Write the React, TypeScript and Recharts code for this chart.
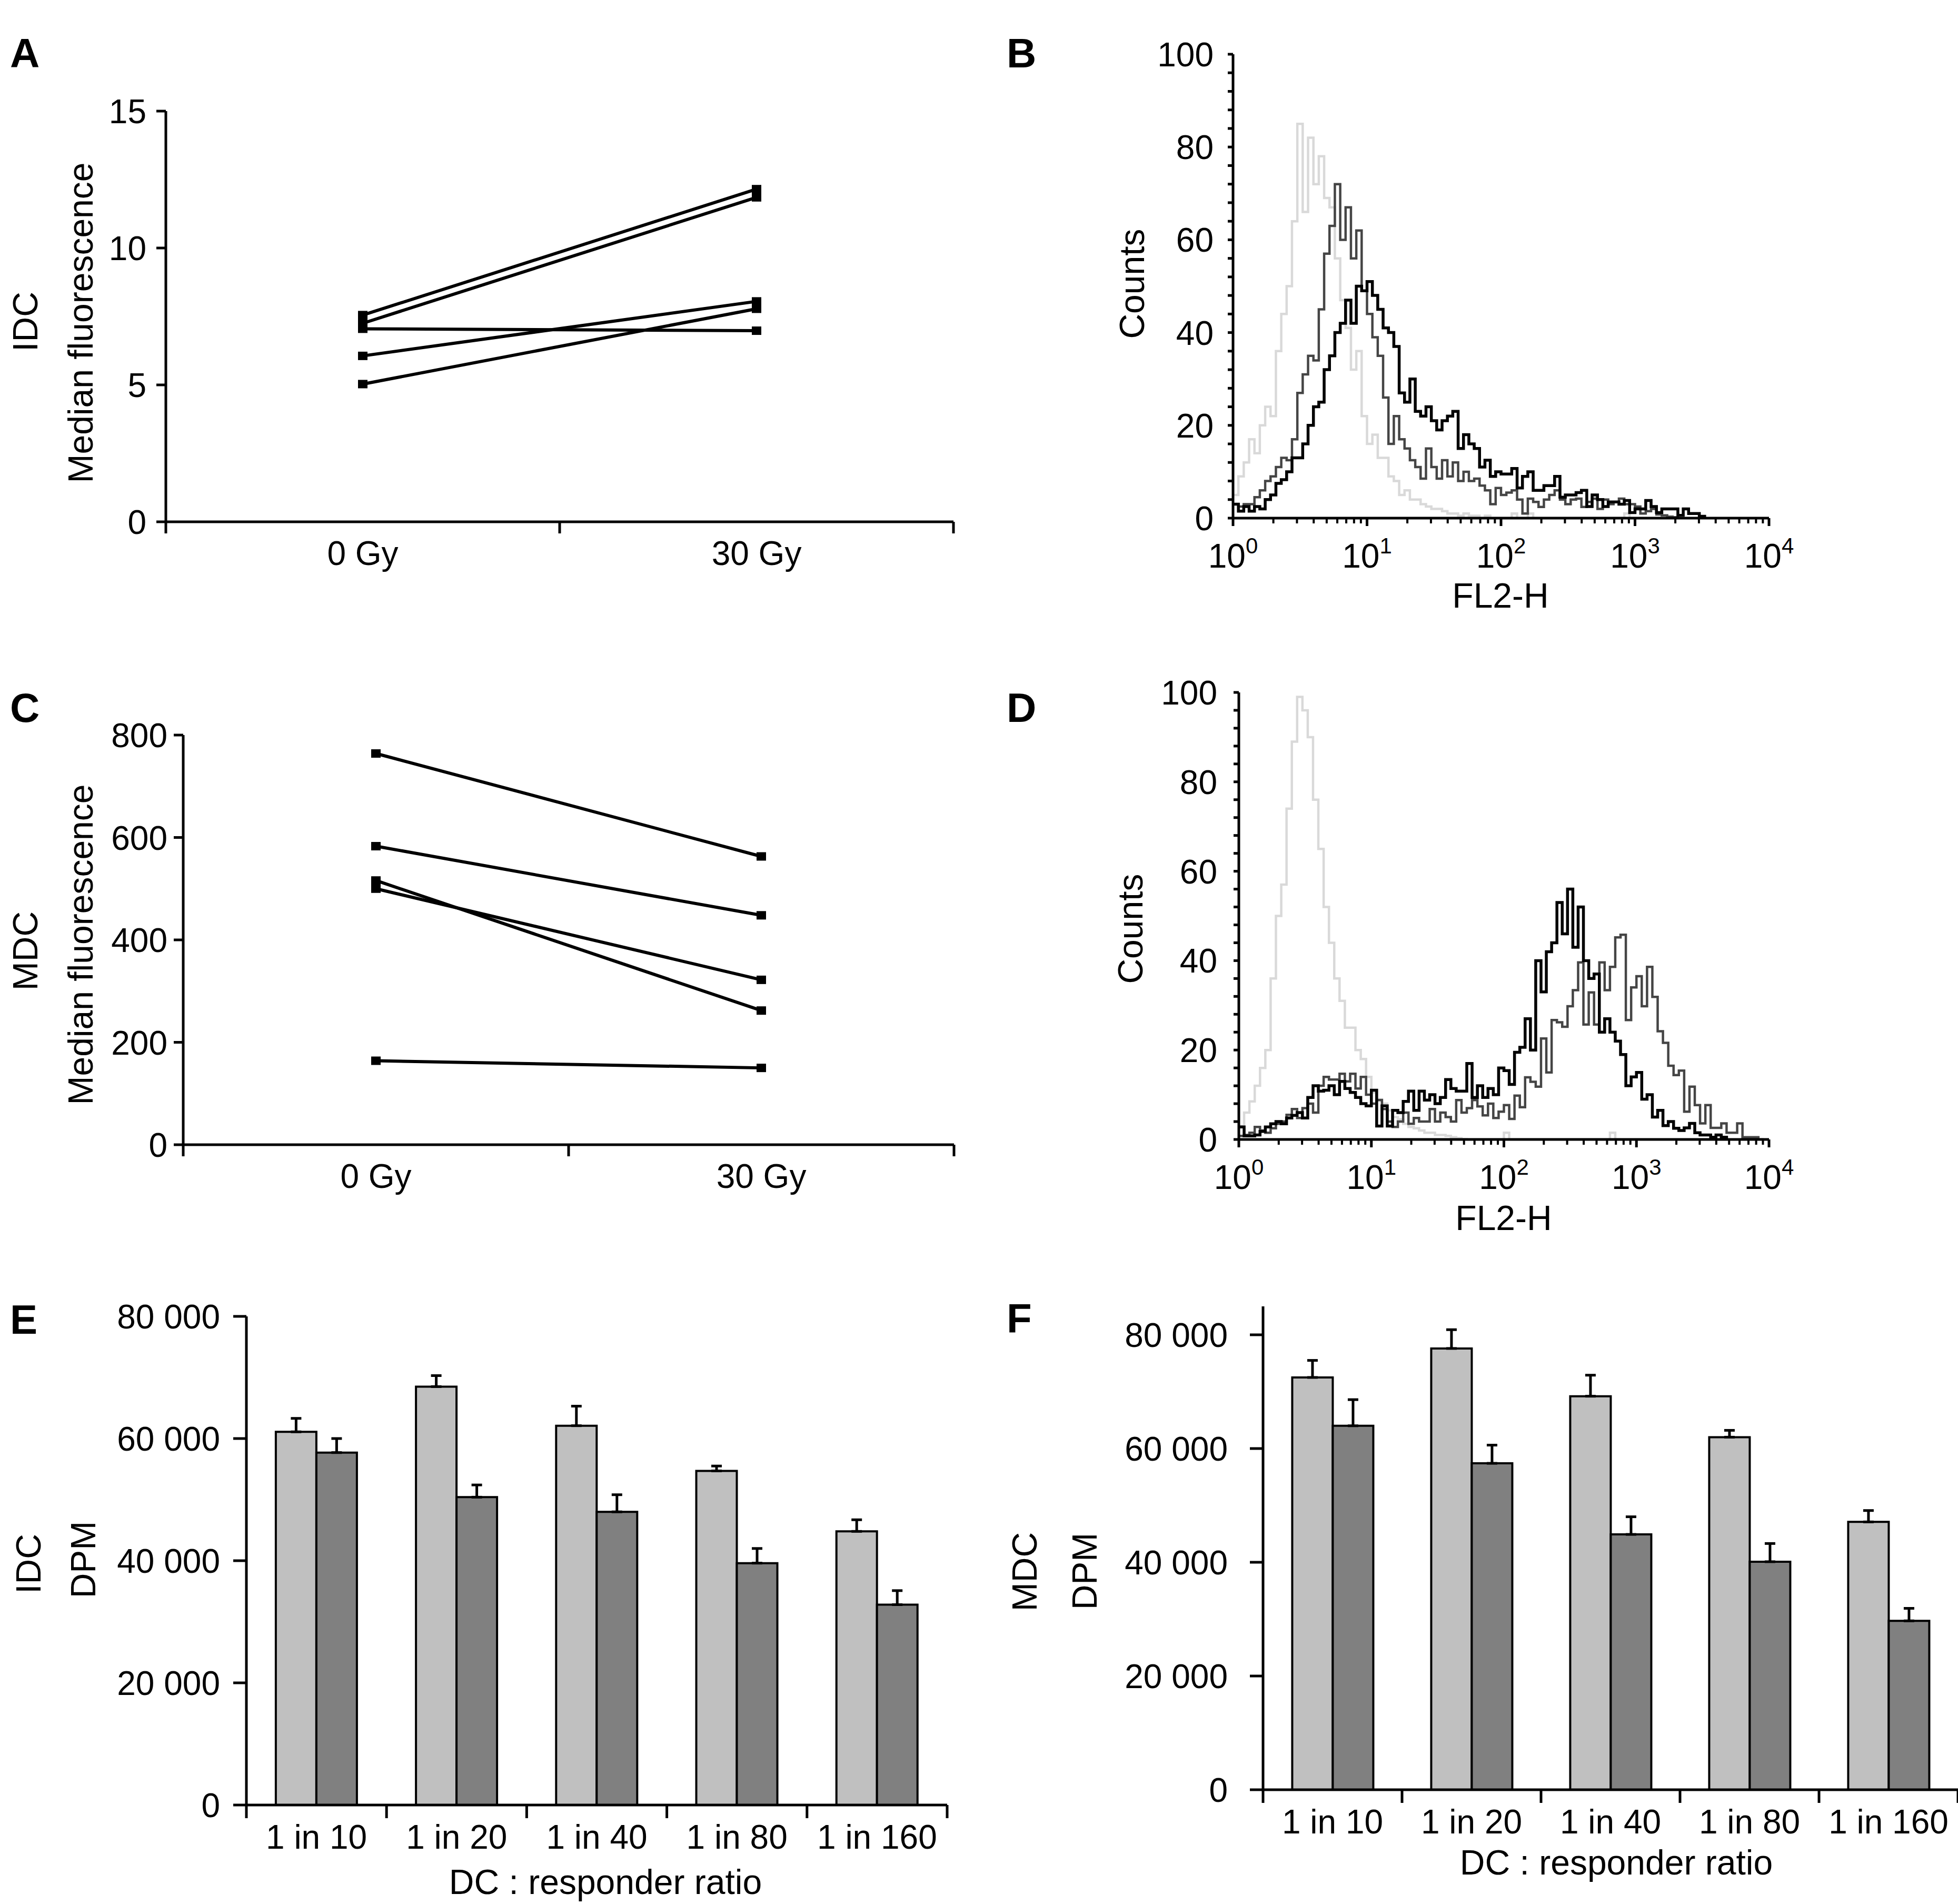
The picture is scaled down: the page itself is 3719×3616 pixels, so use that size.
import React from 'react';
import { Bar, BarChart, ErrorBar, Line, LineChart, XAxis, YAxis } from 'recharts';

const FONT = '"Liberation Sans", Arial, Helvetica, sans-serif';
const TICK_FONT = 64;
const TITLE_FONT = 66;
const AXIS = { stroke: '#000', strokeWidth: 5 };

// ---- A / C: median fluorescence, one line per donor ----
const DOSES = ['0 Gy', '30 Gy'];
const IDC_MEDIAN_0GY = [7.55, 7.25, 7.05, 6.06, 5.03];
const IDC_MEDIAN_30GY = [12.15, 11.85, 6.98, 8.05, 7.78];
const IDC_MEDIAN_TICKS = [0, 5, 10, 15];
const MDC_MEDIAN_0GY = [764, 583, 516, 500, 164];
const MDC_MEDIAN_30GY = [563, 448, 262, 322, 150];
const MDC_MEDIAN_TICKS = [0, 200, 400, 600, 800];

// ---- B / D: FL2-H histograms (counts per bin, bins are HIST_BIN decades wide) ----
const HIST_BIN = 0.04;
const HIST_DECADES = [0, 1, 2, 3, 4];
const HIST_COUNT_LABELS = [0, 20, 40, 60, 80, 100];
const HIST_COUNT_MINOR = 4;

const IDC_HIST_ISOTYPE = [
  5, 9, 12, 17, 14, 20, 24, 22, 36, 44,
  50, 64, 85, 66, 82, 72, 78, 69, 67, 56,
  47, 41, 32, 36, 22, 16, 18, 13, 13, 9,
  8, 5, 6, 4, 4, 3, 2.5, 2, 2, 1.5,
  1, 1, 0.5, 1, 0.5, 0.5, 0, 0.5, 0, 0,
  0, 0, 1, 0, 0, 1, 0, 0, 0, 0,
  0, 0, 0, 0, 0, 0, 0, 0, 0, 0,
  0, 0, 0, 1, 0, 0,
];
const IDC_HIST_30GY = [
  3, 2.5, 3, 3, 4.5, 6, 8, 9, 11, 13,
  12.5, 17, 27, 31, 35, 34, 45, 57, 63, 72,
  60, 67, 56, 62, 49, 44, 39, 35, 26, 16,
  22, 17, 15, 12.5, 11, 8.5, 15, 11, 8.5, 12.5,
  9, 12, 8, 10, 8, 8.5, 7, 6, 3, 6.5,
  5, 5.5, 6, 4, 1, 4.2, 3.5, 2.4, 4, 5,
  6, 4, 3, 4, 4.2, 2.4, 3.5, 4.2, 2, 4,
  3, 3.5, 4.2, 3, 3, 2.5, 1, 1.5, 2, 0.8,
  0.6, 0.3, 0.2, 0,
];
const IDC_HIST_0GY = [
  3, 1.5, 2.5, 1.5, 2.5, 2, 4, 5, 7.5, 8.3,
  10, 13, 13, 16, 20, 24, 25, 32, 35, 40,
  42, 47, 42, 50, 49, 51, 48, 45, 41, 40,
  37, 27, 25, 30, 23, 22, 24, 21, 19, 21,
  22, 23, 15, 18, 16, 15, 11, 12.5, 9, 10,
  9.5, 9.5, 10.7, 6.5, 9, 10, 6, 6, 7, 7,
  9, 4.5, 5, 5, 5.5, 6, 2.5, 5, 4, 2.5,
  3.5, 3.5, 3, 3.8, 1.2, 2, 2, 3.8, 2.5, 1.2,
  2, 2, 2, 0.6, 2, 1, 1, 0.4, 0,
];

const MDC_HIST_ISOTYPE = [
  3, 6, 8.5, 12, 16, 20, 36, 50, 57, 74,
  89, 99, 96, 90, 76, 65, 52, 44, 36, 31,
  25, 25, 20, 18, 14, 10.5, 9, 8, 6.5, 5,
  4.5, 3.5, 2.8, 2.5, 2, 1.5, 1.5, 1, 1, 0.8,
  0.5, 0.3, 0.1, 0, 0, 0, 0, 0, 0, 0,
  1.5, 0, 0, 0, 0, 0, 0, 0, 0, 0,
  0, 0, 0, 0, 0, 0, 0, 0, 0, 0,
  1.5, 0, 0,
];
const MDC_HIST_30GY = [
  0.8, 1, 1.5, 2.8, 2, 1.5, 2.5, 3.5, 4, 5.5,
  6.8, 4.8, 7, 8, 6, 12, 14, 13.4, 13.4, 14.7,
  13, 14.7, 11.4, 14, 10, 8, 8.8, 6.8, 4, 2.8,
  4, 6, 3.5, 4.8, 4, 4, 6.8, 4, 6, 5,
  4, 8.8, 6, 7, 8.8, 7.4, 5.4, 8, 4.8, 6.2,
  7.7, 4.6, 9.8, 7.2, 13.9, 12.9, 11.8, 22.6, 15, 26.7,
  26.2, 25.2, 29.8, 33.4, 39.6, 25.7, 32.9, 25.7, 39.6, 33.4,
  38.6, 45.2, 45.8, 26.7, 34, 36.5, 29.8, 38.6, 31.9, 24.2,
  21.6, 16.5, 14.4, 15.4, 6.2, 11.8, 7.7, 3.6, 7.7, 2.6,
  2.6, 3.6, 1.5, 1.5, 3.6, 0.5, 0.5, 0.5, 0, 0,
];
const MDC_HIST_0GY = [
  2.8, 0.8, 0.8, 1, 1.8, 2.8, 3.5, 4, 3.5, 4.8,
  5.4, 6, 4.8, 9.4, 12, 10.8, 11, 12, 10, 13,
  11.4, 10.5, 9.4, 8, 7.5, 11, 3, 7.5, 3, 6.5,
  6, 8.5, 10.8, 6.5, 10.8, 8.8, 10, 8, 9.4, 13.4,
  11.4, 10.8, 10.8, 17, 9.4, 12, 9.4, 11.4, 10, 16,
  15.4, 12.3, 19.5, 20.6, 27, 20, 40, 33, 42, 44,
  53, 46, 56, 43, 52, 40, 36, 37, 24, 27,
  24, 22, 19, 12, 14, 15, 9, 10, 5, 6.5,
  3.1, 4, 2.5, 2, 2.6, 3.6, 1.5, 1, 1, 0.5,
  1, 0.5, 0,
];

// ---- E / F: proliferation (DPM), mean with upper SEM ----
const RATIOS = ['1 in 10', '1 in 20', '1 in 40', '1 in 80', '1 in 160'];
const DPM_TICKS = [0, 20000, 40000, 60000, 80000];
const IDC_DPM_0GY = [61100, 68500, 62100, 54700, 44800];
const IDC_DPM_0GY_ERR = [2200, 1800, 3200, 800, 1900];
const IDC_DPM_30GY = [57700, 50400, 48000, 39600, 32800];
const IDC_DPM_30GY_ERR = [2300, 2000, 2800, 2400, 2300];
const MDC_DPM_0GY = [72500, 77600, 69200, 62000, 47100];
const MDC_DPM_0GY_ERR = [3000, 3300, 3700, 1200, 2000];
const MDC_DPM_30GY = [64000, 57400, 44900, 40100, 29700];
const MDC_DPM_30GY_ERR = [4600, 3200, 3100, 3200, 2200];

const fmtThousands = (v: number) => String(v).replace(/\B(?=(\d{3})+(?!\d))/g, ' ');

function ValueTick(props: any) {
  const { x, y, payload, len, gap, format, labelled } = props;
  const v = payload.value;
  const show = labelled ? labelled(v) : true;
  return (
    <g>
      <line x1={x - len} y1={y} x2={x} y2={y} stroke="#000" strokeWidth={5} />
      {show && (
        <text x={x - gap} y={y + 23} textAnchor="end" fontSize={TICK_FONT} fontFamily={FONT} fill="#000">
          {format ? format(v) : v}
        </text>
      )}
    </g>
  );
}

function DoseTick(props: any) {
  const { x, y, payload } = props;
  const v = payload.value;
  if (Number.isInteger(v)) return <line x1={x} y1={y} x2={x} y2={y + 22} stroke="#000" strokeWidth={5} />;
  return (
    <text x={x} y={y + 82} textAnchor="middle" fontSize={TICK_FONT} fontFamily={FONT} fill="#000">
      {DOSES[Math.floor(v)]}
    </text>
  );
}

const SquareDot = (d: any) => (
  <rect key={`${d.dataKey}-${d.index}`} x={d.cx - 9} y={d.cy - 8} width={18} height={16} fill="#000" />
);

type PairedProps = {
  left: number; top: number; width: number; height: number;
  axisLeft: number; marginTop: number; axisBottom: number;
  max: number; ticks: number[]; before: number[]; after: number[]; labelGap: number;
};

function PairedPanel(p: PairedProps) {
  const rows = DOSES.map((_, i) => {
    const row: Record<string, number> = { x: i + 0.5 };
    (i === 0 ? p.before : p.after).forEach((v, k) => (row[`d${k}`] = v));
    return row;
  });
  const xTicks = [...DOSES.flatMap((_, i) => [i, i + 0.5]), DOSES.length];
  return (
    <div style={{ position: 'absolute', left: p.left, top: p.top }}>
      <LineChart width={p.width} height={p.height} data={rows} margin={{ top: p.marginTop, right: 20, bottom: 0, left: 0 }}>
        <XAxis type="number" dataKey="x" domain={[0, DOSES.length]} ticks={xTicks} interval={0}
          tickSize={0} tickMargin={0} height={p.axisBottom} axisLine={AXIS} tick={DoseTick} />
        <YAxis type="number" domain={[0, p.max]} ticks={p.ticks} interval={0} tickSize={0} tickMargin={0}
          width={p.axisLeft} axisLine={AXIS} tick={(t: any) => <ValueTick {...t} len={18} gap={p.labelGap} />} />
        {p.before.map((_, k) => (
          <Line key={k} dataKey={`d${k}`} stroke="#000" strokeWidth={6} dot={SquareDot} isAnimationActive={false} />
        ))}
      </LineChart>
    </div>
  );
}

const HIST_X_TICKS = HIST_DECADES.flatMap((d) =>
  d < HIST_DECADES[HIST_DECADES.length - 1] ? [d, ...[2, 3, 4, 5, 6, 7, 8, 9].map((m) => d + Math.log10(m))] : [d],
);
const HIST_Y_TICKS = Array.from({ length: 100 / HIST_COUNT_MINOR + 1 }, (_, i) => i * HIST_COUNT_MINOR);

function DecadeTick(props: any) {
  const { x, y, payload } = props;
  const v = payload.value;
  const major = Math.abs(v - Math.round(v)) < 1e-9;
  if (!major) return <line x1={x} y1={y} x2={x} y2={y + 10} stroke="#000" strokeWidth={4} />;
  return (
    <g>
      <line x1={x} y1={y} x2={x} y2={y + 15} stroke="#000" strokeWidth={5} />
      <text x={x} y={y + 94} textAnchor="middle" fontSize={TICK_FONT} fontFamily={FONT} fill="#000">
        10<tspan dy={-27} fontSize={42}>{Math.round(v)}</tspan>
      </text>
    </g>
  );
}

type Curve = { counts: number[]; color: string; w: number };
const histRows = (counts: number[]) => counts.map((c, i) => ({ x: i * HIST_BIN, c }));

function HistPanel(p: {
  left: number; top: number; width: number; height: number;
  axisLeft: number; marginTop: number; axisBottom: number; labelGap: number; curves: Curve[];
}) {
  return (
    <div style={{ position: 'absolute', left: p.left, top: p.top }}>
      <LineChart width={p.width} height={p.height} margin={{ top: p.marginTop, right: 100, bottom: 0, left: 0 }}>
        <XAxis xAxisId="b" type="number" dataKey="x" domain={[0, 4]} allowDataOverflow ticks={HIST_X_TICKS}
          interval={0} tickSize={0} tickMargin={0} height={p.axisBottom} axisLine={AXIS} tick={DecadeTick} />
        <XAxis xAxisId="t" orientation="top" type="number" dataKey="x" domain={[0, 4]} height={0}
          tick={false} tickLine={false} axisLine={AXIS} />
        <YAxis yAxisId="l" type="number" domain={[0, 100]} allowDataOverflow ticks={HIST_Y_TICKS} interval={0}
          tickSize={0} tickMargin={0} width={p.axisLeft} axisLine={AXIS}
          tick={(t: any) => (
            <ValueTick {...t} len={10} gap={p.labelGap} labelled={(v: number) => HIST_COUNT_LABELS.includes(v)} />
          )} />
        <YAxis yAxisId="r" orientation="right" type="number" domain={[0, 100]} width={0}
          tick={false} tickLine={false} axisLine={AXIS} />
        {p.curves.map((c, i) => (
          <Line key={i} xAxisId="b" yAxisId="l" data={histRows(c.counts)} dataKey="c" type="stepAfter"
            stroke={c.color} strokeWidth={c.w} dot={false} isAnimationActive={false} />
        ))}
      </LineChart>
    </div>
  );
}

function RatioTick(props: any) {
  const { x, y, payload, index, band } = props;
  const tick = (tx: number) => <line x1={tx} y1={y} x2={tx} y2={y + 25} stroke="#000" strokeWidth={5} />;
  return (
    <g>
      {tick(x - band / 2)}
      {index === RATIOS.length - 1 && tick(x + band / 2)}
      <text x={x} y={y + 83} textAnchor="middle" fontSize={TICK_FONT} fontFamily={FONT} fill="#000">
        {payload.value}
      </text>
    </g>
  );
}

function DpmPanel(p: {
  left: number; top: number; width: number; height: number; axisLeft: number; marginTop: number;
  marginRight: number; axisBottom: number; max: number; labelGap: number;
  v0: number[]; e0: number[]; v30: number[]; e30: number[];
}) {
  const rows = RATIOS.map((r, i) => ({ ratio: r, g0: p.v0[i], err0: [0, p.e0[i]], g30: p.v30[i], err30: [0, p.e30[i]] }));
  const band = (p.width - p.axisLeft - p.marginRight) / RATIOS.length;
  return (
    <div style={{ position: 'absolute', left: p.left, top: p.top }}>
      <BarChart width={p.width} height={p.height} data={rows} barCategoryGap="21%" barGap={0}
        margin={{ top: p.marginTop, right: p.marginRight, bottom: 0, left: 0 }}>
        <XAxis dataKey="ratio" interval={0} tickSize={0} tickMargin={0} height={p.axisBottom} axisLine={AXIS}
          tick={(t: any) => <RatioTick {...t} band={band} />} />
        <YAxis type="number" domain={[0, p.max]} allowDataOverflow ticks={DPM_TICKS} interval={0} tickSize={0}
          tickMargin={0} width={p.axisLeft} axisLine={AXIS}
          tick={(t: any) => <ValueTick {...t} len={25} gap={p.labelGap} format={fmtThousands} />} />
        <Bar dataKey="g0" fill="#c0c0c0" stroke="#000" strokeWidth={4} isAnimationActive={false}>
          <ErrorBar dataKey="err0" width={10} stroke="#000" strokeWidth={5} direction="y" />
        </Bar>
        <Bar dataKey="g30" fill="#808080" stroke="#000" strokeWidth={4} isAnimationActive={false}>
          <ErrorBar dataKey="err30" width={10} stroke="#000" strokeWidth={5} direction="y" />
        </Bar>
      </BarChart>
    </div>
  );
}

function VText({ cx, cy, children }: { cx: number; cy: number; children: React.ReactNode }) {
  return (
    <text x={cx} y={cy} transform={`rotate(-90 ${cx} ${cy})`} textAnchor="middle" dominantBaseline="central"
      fontSize={TITLE_FONT} fontFamily={FONT} fill="#000">
      {children}
    </text>
  );
}

function Letter({ x, y, children }: { x: number; y: number; children: React.ReactNode }) {
  return (
    <text x={x} y={y} fontSize={78} fontWeight="bold" fontFamily={FONT} fill="#000">
      {children}
    </text>
  );
}

function HText({ x, y, children }: { x: number; y: number; children: React.ReactNode }) {
  return (
    <text x={x} y={y} textAnchor="middle" fontSize={TITLE_FONT} fontFamily={FONT} fill="#000">
      {children}
    </text>
  );
}

export default function App() {
  const gray = { light: '#d9d9d9', dark: '#454545', black: '#000' };
  return (
    <div style={{ position: 'absolute', left: 0, top: 0, width: 3719, height: 3616, overflow: 'hidden', background: '#fff', fontFamily: FONT }}>
      <PairedPanel left={0} top={150} width={1831} height={991} axisLeft={315} marginTop={61} axisBottom={150}
        max={15} ticks={IDC_MEDIAN_TICKS} before={IDC_MEDIAN_0GY} after={IDC_MEDIAN_30GY} labelGap={37} />
      <PairedPanel left={0} top={1340} width={1832} height={984} axisLeft={348} marginTop={56} axisBottom={150}
        max={800} ticks={MDC_MEDIAN_TICKS} before={MDC_MEDIAN_0GY} after={MDC_MEDIAN_30GY} labelGap={30} />

      <HistPanel left={2100} top={50} width={1360} height={1114} axisLeft={242} marginTop={53} axisBottom={180} labelGap={37}
        curves={[
          { counts: IDC_HIST_ISOTYPE, color: gray.light, w: 4.5 },
          { counts: IDC_HIST_30GY, color: gray.dark, w: 4.5 },
          { counts: IDC_HIST_0GY, color: gray.black, w: 5.5 },
        ]} />
      <HistPanel left={2100} top={1260} width={1360} height={1084} axisLeft={253} marginTop={55} axisBottom={180} labelGap={41}
        curves={[
          { counts: MDC_HIST_ISOTYPE, color: gray.light, w: 4.5 },
          { counts: MDC_HIST_30GY, color: gray.dark, w: 4.5 },
          { counts: MDC_HIST_0GY, color: gray.black, w: 5.5 },
        ]} />

      <DpmPanel left={0} top={2450} width={1819} height={1148} axisLeft={468} marginTop={50} marginRight={20} axisBottom={170}
        max={80000} labelGap={50} v0={IDC_DPM_0GY} e0={IDC_DPM_0GY_ERR} v30={IDC_DPM_30GY} e30={IDC_DPM_30GY_ERR} />
      <DpmPanel left={2050} top={2430} width={1669} height={1159} axisLeft={349} marginTop={51} marginRight={0} axisBottom={190}
        max={85000} labelGap={67} v0={MDC_DPM_0GY} e0={MDC_DPM_0GY_ERR} v30={MDC_DPM_30GY} e30={MDC_DPM_30GY_ERR} />

      <svg width={3719} height={3616} style={{ position: 'absolute', left: 0, top: 0, pointerEvents: 'none' }}>
        <Letter x={19} y={128}>A</Letter>
        <Letter x={1912} y={128}>B</Letter>
        <Letter x={19} y={1371}>C</Letter>
        <Letter x={1912} y={1371}>D</Letter>
        <Letter x={19} y={2533}>E</Letter>
        <Letter x={1912} y={2531}>F</Letter>

        <VText cx={48} cy={611}>IDC</VText>
        <VText cx={153} cy={613}>Median fluorescence</VText>
        <VText cx={48} cy={1806}>MDC</VText>
        <VText cx={153} cy={1794}>Median fluorescence</VText>
        <VText cx={2150} cy={539}>Counts</VText>
        <VText cx={2147} cy={1764}>Counts</VText>
        <VText cx={54} cy={2970}>IDC</VText>
        <VText cx={158} cy={2962}>DPM</VText>
        <VText cx={1946} cy={2985}>MDC</VText>
        <VText cx={2060} cy={2984}>DPM</VText>

        <HText x={2850} y={1154}>FL2-H</HText>
        <HText x={2856} y={2336}>FL2-H</HText>
        <HText x={1150} y={3597}>DC : responder ratio</HText>
        <HText x={3070} y={3560}>DC : responder ratio</HText>
      </svg>
    </div>
  );
}
